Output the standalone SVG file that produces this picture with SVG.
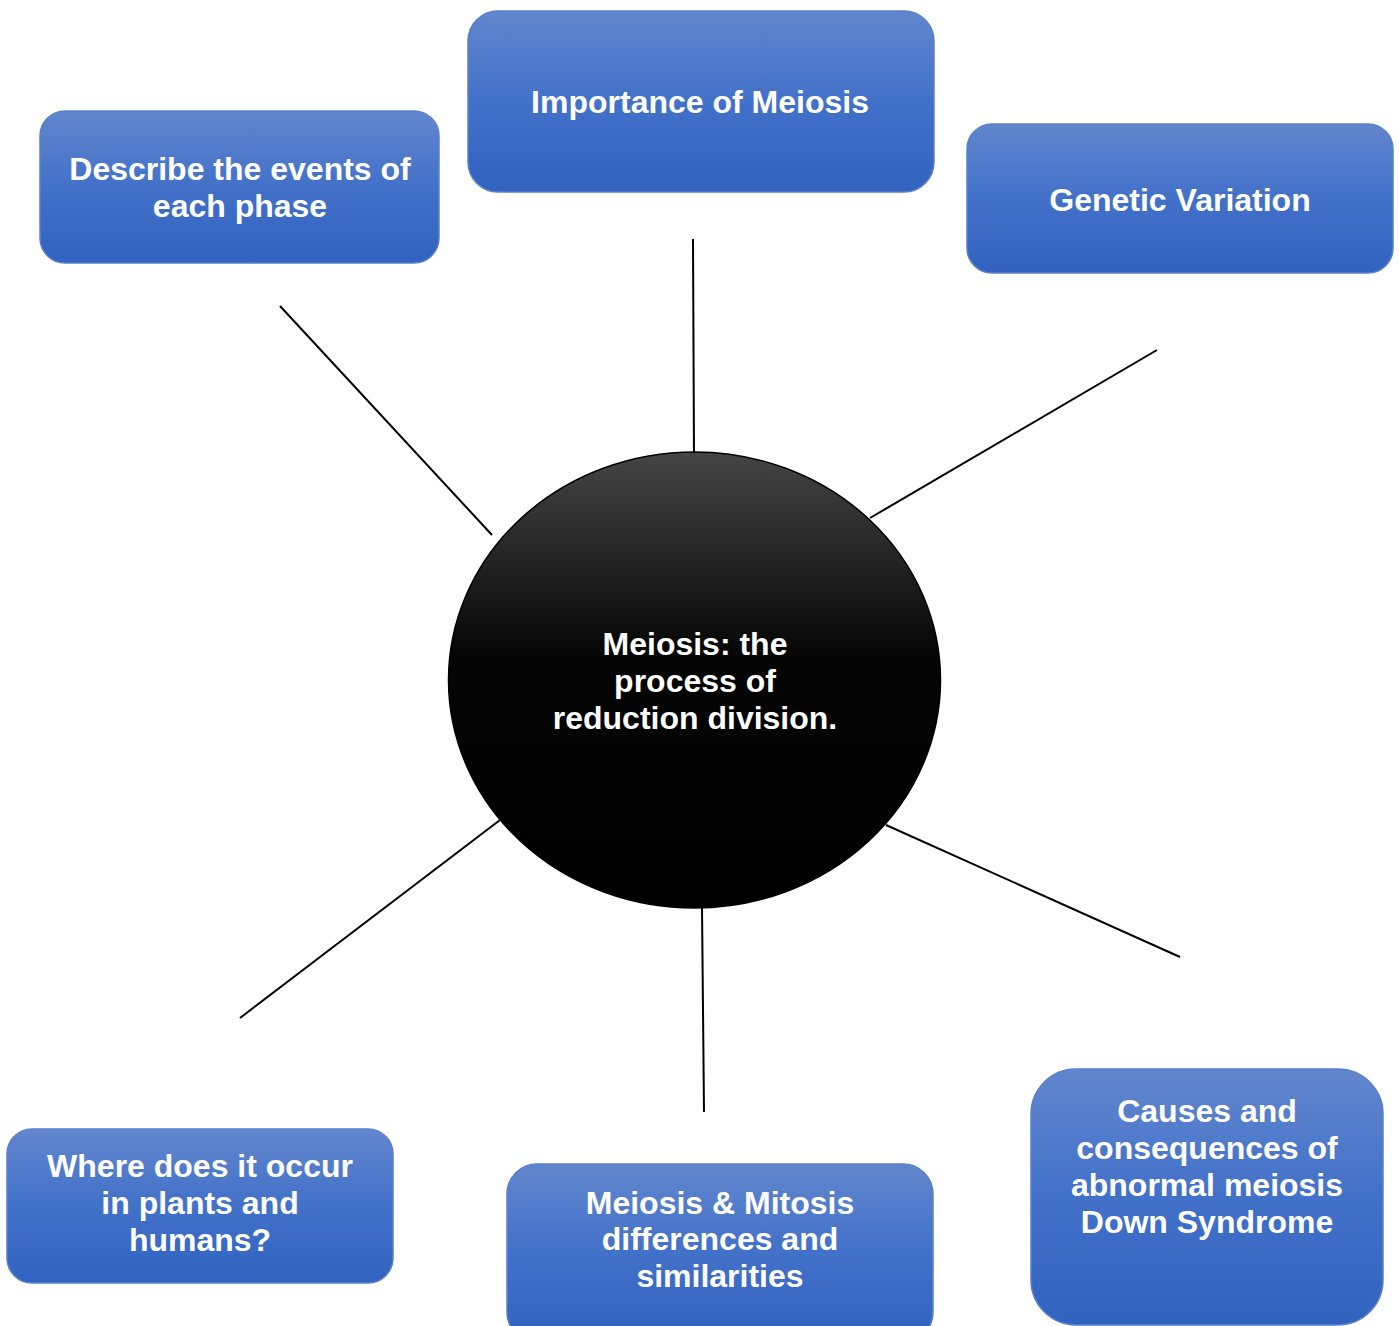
<svg xmlns="http://www.w3.org/2000/svg" width="1399" height="1326" viewBox="0 0 1399 1326">
<defs>
<linearGradient id="blue" x1="0" y1="0" x2="0" y2="1">
<stop offset="0" stop-color="#6286cd"/>
<stop offset="0.5" stop-color="#4271c9"/>
<stop offset="1" stop-color="#3062bf"/>
</linearGradient>
<linearGradient id="dark" x1="0" y1="0" x2="0" y2="1">
<stop offset="0" stop-color="#454545"/>
<stop offset="0.45" stop-color="#050505"/>
<stop offset="1" stop-color="#000000"/>
</linearGradient>
</defs>
<style>
.box{fill:url(#blue);stroke:#5b80c8;stroke-width:1.5}
.t{font-family:"Liberation Sans",Arial,sans-serif;font-weight:bold;font-size:32px;fill:#ffffff;text-anchor:middle}
.c{stroke:#000;stroke-width:2;fill:none}
</style>
<rect width="1399" height="1326" fill="#ffffff"/>
<g id="connectors">
<line class="c" x1="280" y1="306" x2="492" y2="535"/>
<line class="c" x1="693" y1="239" x2="694" y2="453"/>
<line class="c" x1="870" y1="518" x2="1157" y2="350"/>
<line class="c" x1="886" y1="825" x2="1180" y2="957"/>
<line class="c" x1="702" y1="907" x2="704" y2="1112"/>
<line class="c" x1="500" y1="820" x2="240" y2="1018"/>
</g>
<g id="center">
<ellipse cx="694.5" cy="680" rx="246" ry="228" fill="url(#dark)" stroke="#000" stroke-width="1.5"/>
<text class="t" x="695" y="655" font-size="31">Meiosis: the</text>
<text class="t" x="695" y="692">process of</text>
<text class="t" x="695" y="729">reduction division.</text>
</g>
<g id="importance">
<rect class="box" x="468" y="11" width="466" height="181" rx="30"/>
<text class="t" x="700" y="113">Importance of Meiosis</text>
</g>
<g id="describe">
<rect class="box" x="40" y="111" width="399" height="152" rx="25"/>
<text class="t" x="240" y="180">Describe the events of</text>
<text class="t" x="240" y="217">each phase</text>
</g>
<g id="genetic">
<rect class="box" x="967" y="124" width="426" height="149" rx="25"/>
<text class="t" x="1180" y="211">Genetic Variation</text>
</g>
<g id="where">
<rect class="box" x="7" y="1129" width="386" height="154" rx="25"/>
<text class="t" x="200" y="1177">Where does it occur</text>
<text class="t" x="200" y="1214">in plants and</text>
<text class="t" x="200" y="1251">humans?</text>
</g>
<g id="mitosis">
<rect class="box" x="507" y="1164" width="426" height="178" rx="30"/>
<text class="t" x="720" y="1214">Meiosis &amp; Mitosis</text>
<text class="t" x="720" y="1250">differences and</text>
<text class="t" x="720" y="1287">similarities</text>
</g>
<g id="causes">
<rect class="box" x="1031" y="1069" width="352" height="256" rx="45"/>
<text class="t" x="1207" y="1122">Causes and</text>
<text class="t" x="1207" y="1159">consequences of</text>
<text class="t" x="1207" y="1196">abnormal meiosis</text>
<text class="t" x="1207" y="1233">Down Syndrome</text>
</g>
</svg>
